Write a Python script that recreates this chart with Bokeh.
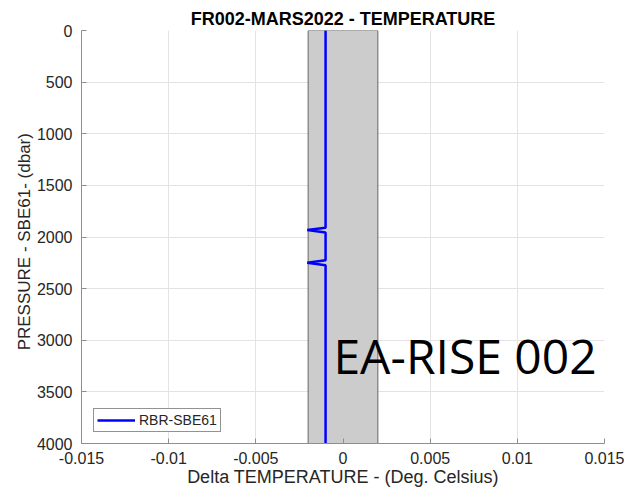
from bokeh.plotting import figure
from bokeh.models import Range1d, FixedTicker, Label, Legend, LegendItem
from bokeh.embed import file_html
from bokeh.resources import INLINE

# Profile of RBR - SBE61 temperature difference versus pressure
pressure = [0, 1910, 1933, 1957, 2226, 2250, 2274, 4000]
delta_temp = [-0.001, -0.001, -0.00205, -0.001, -0.001, -0.00205, -0.001, -0.001]

# Tolerance band (+/- 0.002 degC) over the full pressure range
band_left, band_right = -0.002, 0.002
band_top, band_bottom = 0, 4000

x_ticks = [-0.015, -0.01, -0.005, 0, 0.005, 0.01, 0.015]
x_tick_labels = ["-0.015", "-0.01", "-0.005", "0", "0.005", "0.01", "0.015"]
y_ticks = [0, 500, 1000, 1500, 2000, 2500, 3000, 3500, 4000]

FONT = "Liberation Sans"

p = figure(
    width=624, height=493,
    x_range=Range1d(-0.015, 0.015),
    y_range=Range1d(4000, 0),
    output_backend="svg", toolbar_location=None,
    min_border_left=81, min_border_right=20,
    min_border_top=30, min_border_bottom=50,
)
p.outline_line_color = None

p.title.text = "FR002-MARS2022 - TEMPERATURE"
p.title.align = "center"
p.title.text_font = FONT
p.title.text_font_size = "18px"
p.title.text_font_style = "bold"
p.title.text_color = "#000000"
p.title.offset = 0
p.title.standoff = 4

for ax in (p.xaxis, p.yaxis):
    ax.axis_line_color = "#8f8f8f"
    ax.major_tick_line_color = "#8f8f8f"
    ax.major_tick_in = 5
    ax.major_tick_out = 0
    ax.minor_tick_line_color = None
    ax.major_label_text_font = FONT
    ax.major_label_text_font_size = "16px"
    ax.major_label_text_color = "#262626"
    ax.axis_label_text_font = FONT
    ax.axis_label_text_font_style = "normal"
    ax.axis_label_text_color = "#262626"

p.xaxis.ticker = FixedTicker(ticks=x_ticks)
p.xaxis.major_label_overrides = {t: s for t, s in zip(x_ticks, x_tick_labels)}
p.xaxis.major_label_standoff = 8
p.xaxis.axis_label = "Delta TEMPERATURE - (Deg. Celsius)"
p.xaxis.axis_label_text_font_size = "18px"
p.xaxis.axis_label_standoff = 0

p.yaxis.ticker = FixedTicker(ticks=y_ticks)
p.yaxis.major_label_standoff = 9
p.yaxis.axis_label = "PRESSURE  -  SBE61- (dbar)"
p.yaxis.axis_label_text_font_size = "17px"
p.yaxis.axis_label_standoff = 0

p.xgrid.ticker = FixedTicker(ticks=x_ticks)
p.ygrid.ticker = FixedTicker(ticks=y_ticks)
p.grid.grid_line_color = "#e3e3e3"
p.grid.grid_line_width = 1

p.quad(left=[band_left], right=[band_right], top=[band_top], bottom=[band_bottom],
       fill_color="#cccccc", line_color="#666666", line_width=1)

line = p.line(delta_temp, pressure, line_color="#0000ff", line_width=2.5)

legend = Legend(items=[LegendItem(label="RBR-SBE61", renderers=[line])],
                location=(12, 11))
legend.margin = 0
legend.padding = 3
legend.spacing = 0
legend.glyph_width = 38
legend.glyph_height = 16
legend.label_standoff = 4
legend.label_text_font = FONT
legend.label_text_font_size = "14px"
legend.label_text_color = "#262626"
legend.border_line_color = "#262626"
legend.border_line_width = 1
legend.background_fill_color = "#ffffff"
p.add_layout(legend, "center")

p.add_layout(Label(x=-0.00055, y=3150, text="EA-RISE 002",
                   text_font="Open Sans", text_font_size="48px",
                   text_color="#000000", text_baseline="alphabetic"))

open("out.html", "w").write(file_html(p, INLINE))
